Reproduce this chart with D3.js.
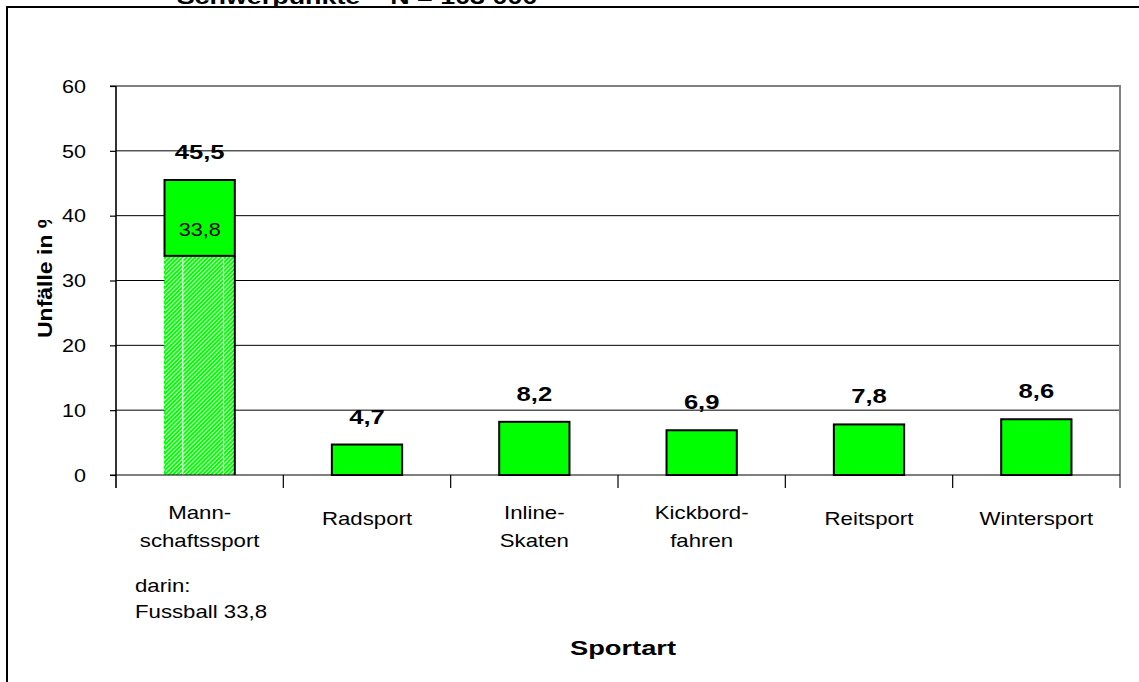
<!DOCTYPE html>
<meta charset="utf-8">
<script src="https://d3js.org/d3.v7.min.js"></script>
<style>
  body { margin: 0; background: #fff; }
  text { font-family: "Liberation Sans", Arial, sans-serif; fill: #000; }
</style>
<div id="chart"></div>
<script>
// data
const categories = ["Mannschaftssport", "Radsport", "Inline-Skaten", "Kickbordfahren", "Reitsport", "Wintersport"];
const categoryLines = [["Mann-", "schaftssport"], ["Radsport"], ["Inline-", "Skaten"], ["Kickbord-", "fahren"], ["Reitsport"], ["Wintersport"]];
const values = [45.5, 4.7, 8.2, 6.9, 7.8, 8.6];
const subValues = [33.8, null, null, null, null, null];   // darin: Fussball
const yTicks = [0, 10, 20, 30, 40, 50, 60];
const noteLines = ["darin:", "Fussball 33,8"];
const title = "Schwerpunkte \u2013 N = 103 000";
const yTitle = "Unfälle in %";
const xTitle = "Sportart";

const W = 1139, H = 682;
const SX = 1.22; // the text in the original is drawn wide
const green = "#00ff00";
const fmt = v => d3.format(".1f")(v).replace(".", ",");

const svg = d3.select("#chart").append("svg")
  .attr("width", W).attr("height", H);

svg.append("rect").attr("width", W).attr("height", H).attr("fill", "#fff");

// hatch for the Fussball part
const defs = svg.append("defs");
const pat = defs.append("pattern")
  .attr("id", "hatch")
  .attr("patternUnits", "userSpaceOnUse")
  .attr("width", 3).attr("height", 3)
  .attr("patternTransform", "rotate(45)");
pat.append("rect").attr("width", 3).attr("height", 3).attr("fill", green);
pat.append("line").attr("x1", 0.5).attr("x2", 0.5).attr("y1", 0).attr("y2", 3)
  .attr("stroke", "#fff").attr("stroke-width", 0.9);

defs.append("clipPath").attr("id", "ytclip")
  .append("rect").attr("x", 0).attr("y", 220).attr("width", 110).attr("height", 460);

// scales
const x = d3.scaleBand().domain(categories).range([116, 1120]);
const y = d3.scaleLinear().domain([0, 60]).range([475, 86]);
const barW = x.bandwidth() * 0.42;
const cx = c => x(c) + x.bandwidth() / 2;

// outer frame (only top and left visible)
svg.append("path")
  .attr("d", "M7,682 V7 H1139")
  .attr("fill", "none").attr("stroke", "#000").attr("stroke-width", 2);

// title, cut off at the top as in the original
svg.append("text")
  .attr("transform", `translate(357,3.5) scale(1.28,1)`)
  .attr("text-anchor", "middle")
  .style("font-size", "21px").style("font-weight", "bold")
  .text(title);

// gridlines
svg.append("g").selectAll("line")
  .data(yTicks.filter(t => t > 0 && t < 60))
  .join("line")
  .attr("x1", 116).attr("x2", 1120)
  .attr("y1", d => y(d)).attr("y2", d => y(d))
  .attr("stroke", "#000").attr("stroke-width", 1);

// plot area border top + right (gray)
svg.append("path")
  .attr("d", `M110,${y(60)} H1120 V488`)
  .attr("fill", "none").attr("stroke", "#808080").attr("stroke-width", 2);

// y axis
const yAxis = svg.append("g")
  .attr("transform", "translate(116,0)")
  .call(d3.axisLeft(y).tickValues(yTicks).tickSize(6).tickSizeOuter(0));
yAxis.select(".domain").remove();
yAxis.selectAll(".tick line").attr("stroke", "#000").attr("stroke-width", 1.2);
yAxis.selectAll(".tick text")
  .attr("x", null).attr("dy", "0.35em")
  .attr("transform", `translate(-30,0) scale(${SX},1)`)
  .attr("text-anchor", "end")
  .style("font-size", "17.7px").style("font-family", "'Liberation Sans', Arial, sans-serif")
  .attr("fill", "#000");

svg.append("line")
  .attr("x1", 116).attr("x2", 116).attr("y1", y(60)).attr("y2", 488)
  .attr("stroke", "#000").attr("stroke-width", 1.6);

// bars
const bars = svg.append("g");
categories.forEach((c, i) => {
  const x0 = cx(c) - barW / 2;
  const sub = subValues[i];
  if (sub != null) {
    bars.append("rect")
      .attr("x", x0).attr("y", y(sub))
      .attr("width", barW).attr("height", y(0) - y(sub))
      .attr("fill", "url(#hatch)");
    [0.26, 0.84].forEach(f => {
      bars.append("line")
        .attr("x1", x0 + barW * f).attr("x2", x0 + barW * f)
        .attr("y1", y(sub) + 2).attr("y2", y(0))
        .attr("stroke", "#fff").attr("stroke-width", 1);
    });
    bars.append("line")
      .attr("x1", x0).attr("x2", x0).attr("y1", y(sub)).attr("y2", y(0))
      .attr("stroke", green).attr("stroke-width", 1.5).attr("stroke-dasharray", "3,2");
    bars.append("line")
      .attr("x1", x0 + barW).attr("x2", x0 + barW).attr("y1", y(sub)).attr("y2", y(0))
      .attr("stroke", "#000").attr("stroke-width", 2);
    bars.append("rect")
      .attr("x", x0).attr("y", y(values[i]))
      .attr("width", barW).attr("height", y(sub) - y(values[i]))
      .attr("fill", green).attr("stroke", "#000").attr("stroke-width", 2);
    bars.append("text")
      .attr("transform", `translate(${cx(c)},${y(sub) - 20}) scale(${SX},1)`)
      .attr("text-anchor", "middle")
      .style("font-size", "17.7px")
      .text(fmt(sub));
  } else {
    bars.append("rect")
      .attr("x", x0).attr("y", y(values[i]))
      .attr("width", barW).attr("height", y(0) - y(values[i]))
      .attr("fill", green).attr("stroke", "#000").attr("stroke-width", 2);
  }
  bars.append("text")
    .attr("transform", `translate(${cx(c)},${y(values[i]) - 21}) scale(${SX},1)`)
    .attr("text-anchor", "middle")
    .style("font-size", "21px").style("font-weight", "bold")
    .text(fmt(values[i]));
});

// x axis line and category ticks
svg.append("line")
  .attr("x1", 110).attr("x2", 1120).attr("y1", y(0)).attr("y2", y(0))
  .attr("stroke", "#000").attr("stroke-width", 1.2);
const bounds = categories.map(c => x(c)).concat([x.range()[1]]);
svg.append("g").selectAll("line")
  .data(bounds.slice(1, -1))
  .join("line")
  .attr("x1", d => d).attr("x2", d => d)
  .attr("y1", y(0)).attr("y2", 488)
  .attr("stroke", "#000").attr("stroke-width", 1.2);

// category labels
const catG = svg.append("g");
categories.forEach((c, i) => {
  const lines = categoryLines[i];
  const base = lines.length > 1 ? 519 : 525;
  lines.forEach((l, j) => {
    catG.append("text")
      .attr("transform", `translate(${cx(c)},${base + j * 28}) scale(${SX},1)`)
      .attr("text-anchor", "middle")
      .style("font-size", "18.2px")
      .text(l);
  });
});

// note under the first category
noteLines.forEach((l, j) => {
  svg.append("text")
    .attr("transform", `translate(135,${592 + j * 26}) scale(${SX},1)`)
    .style("font-size", "18.2px")
    .text(l);
});

// axis titles
svg.append("text")
  .attr("transform", `translate(623,655) scale(1.3,1)`)
  .attr("text-anchor", "middle")
  .style("font-size", "21px").style("font-weight", "bold")
  .text(xTitle);

svg.append("g").attr("clip-path", "url(#ytclip)")
  .append("text")
  .attr("transform", `translate(52,338) rotate(-90) scale(1.15,1)`)
  .style("font-size", "20px").style("font-weight", "bold")
  .text(yTitle);
</script>
